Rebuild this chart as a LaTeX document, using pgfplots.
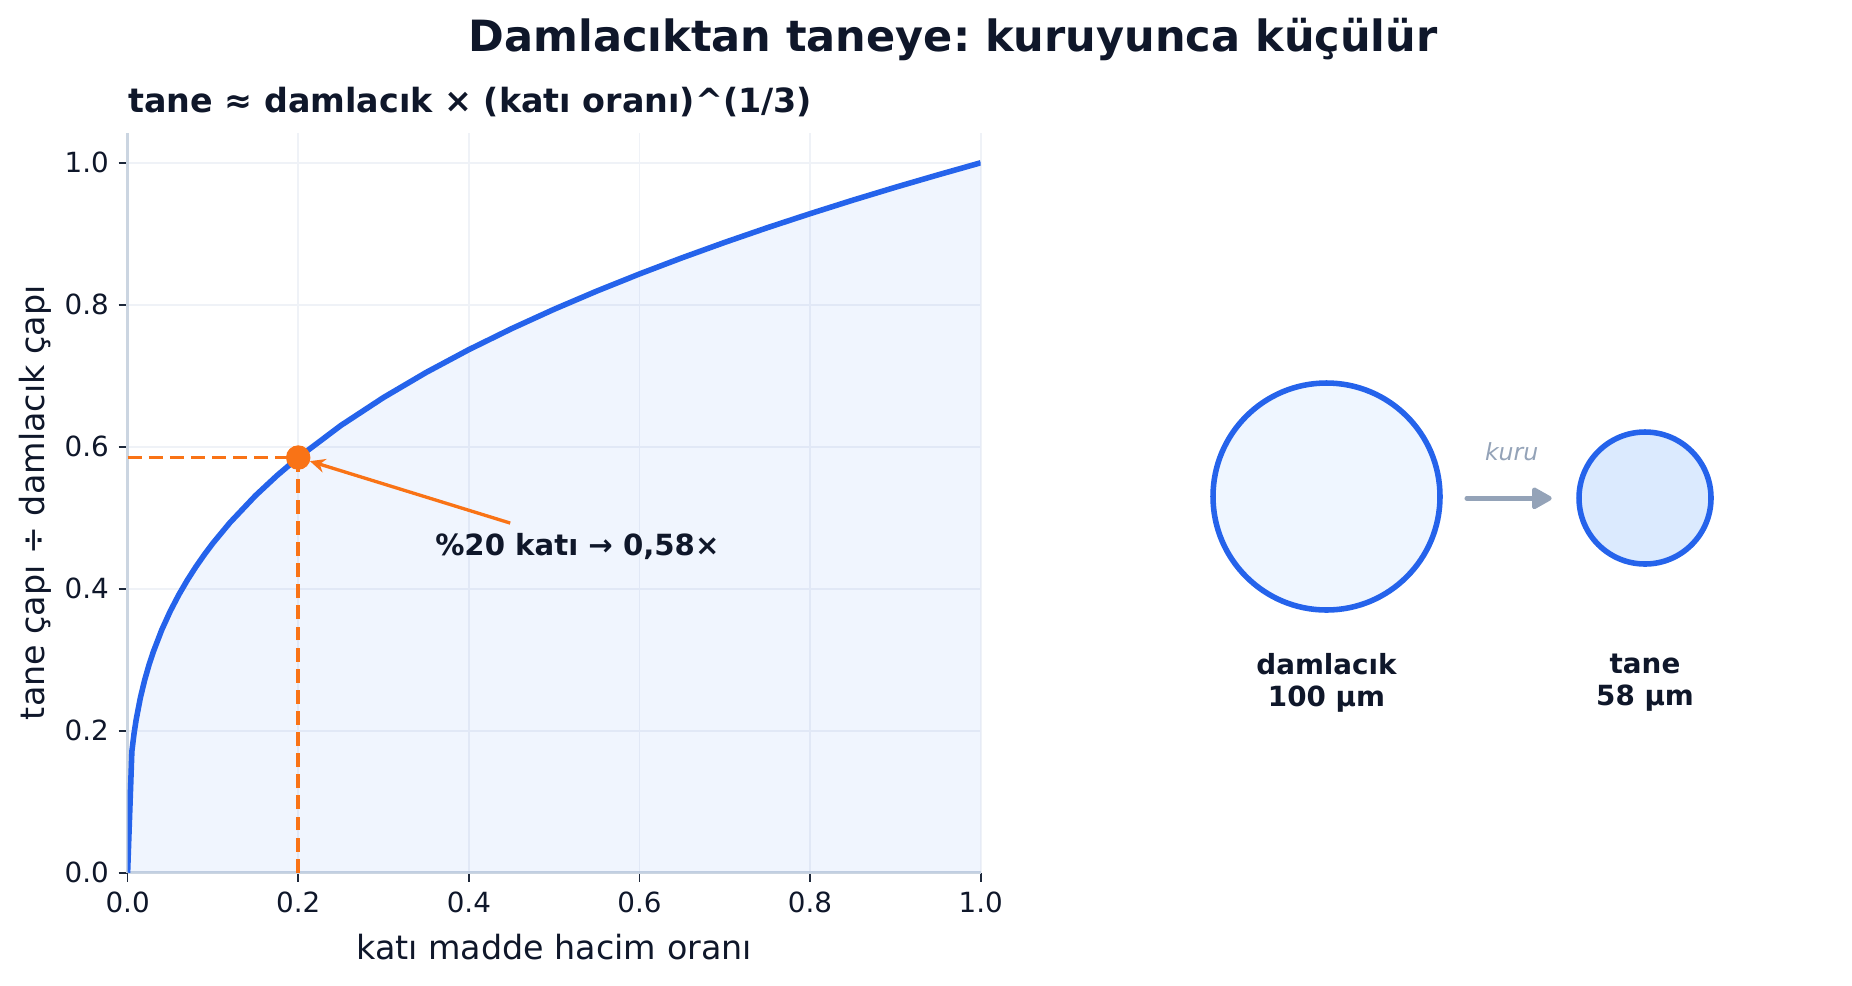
\documentclass[border=0pt]{standalone}
\usepackage{pgfplots}
\pgfplotsset{compat=1.18}
\usepackage{pgfplotstable}
\usepackage{fontspec}
\setmainfont{DejaVu Sans}
\frenchspacing
\usetikzlibrary{arrows.meta}
\definecolor{cblue}{HTML}{2563EB}
\definecolor{cfillA}{HTML}{EFF6FF}
\definecolor{cfillB}{HTML}{DBEAFE}
\definecolor{corange}{HTML}{F97316}
\definecolor{cgray}{HTML}{94A3B8}
\definecolor{ctext}{HTML}{0F172A}
\definecolor{ctick}{HTML}{1E293B}
\definecolor{cgrid}{HTML}{E2E8F0}
\definecolor{cspine}{HTML}{CBD5E1}

\pgfplotstableread{
x y
0 0
0.005 0.1710
0.0075 0.1957
0.01 0.2154
0.015 0.2466
0.02 0.2714
0.025 0.2924
0.03 0.3107
0.04 0.3420
0.05 0.3684
0.06 0.3915
0.07 0.4121
0.08 0.4309
0.09 0.4481
0.1 0.4642
0.12 0.4932
0.15 0.5313
0.175 0.5593
0.2 0.5848
0.25 0.6300
0.3 0.6694
0.35 0.7047
0.4 0.7368
0.45 0.7663
0.5 0.7937
0.55 0.8193
0.6 0.8434
0.65 0.8662
0.7 0.8879
0.75 0.9086
0.8 0.9283
0.85 0.9473
0.9 0.9655
0.95 0.9830
1.0 1.0
}\curvedata

\begin{document}
\begin{tikzpicture}
\useasboundingbox (0,0) rectangle (666.72pt,354.6pt);
% main chart
\begin{axis}[
  at={(45.94pt,40.43pt)}, anchor=south west,
  scale only axis, width=307.1pt, height=266.3pt,
  xmin=0, xmax=1, ymin=0, ymax=1.042,
  axis x line*=bottom, axis y line*=left,
  axis line style={draw=cspine, line width=1pt, -},
  xtick={0,0.2,0.4,0.6,0.8,1.0},
  ytick={0,0.2,0.4,0.6,0.8,1.0},
  tick align=outside, major tick length=3.2pt,
  tick style={draw=ctick, line width=0.6pt},
  /pgf/number format/.cd, fixed, fixed zerofill, precision=1, assume math mode=true,
  /pgfplots/.cd,
  ticklabel style={font=\fontsize{10}{12}\selectfont, text=ctext},
  grid=major, grid style={draw=cgrid!55, line width=0.6pt},
  xlabel={katı madde hacim oranı},
  ylabel={tane çapı ÷ damlacık çapı},
  label style={font=\fontsize{12}{14}\selectfont, text=ctext},
  xlabel style={at={(axis description cs:0.5,-0.1004)}, anchor=center},
  ylabel style={at={(axis description cs:-0.1081,0.5)}, anchor=center},
]
\addplot[draw=none, fill=cblue, fill opacity=0.065] table[x=x,y=y]{\curvedata} \closedcycle;
\addplot[color=cblue, line width=2pt, line join=round] table[x=x,y=y]{\curvedata};
\addplot[color=corange, line width=1.25pt, dash pattern=on 5pt off 2.6pt] coordinates {(0,0.5848) (0.2,0.5848)};
\addplot[color=corange, line width=1.25pt, dash pattern=on 5pt off 2.6pt] coordinates {(0.2,0) (0.2,0.5848)};
\addplot[only marks, mark=*, mark size=4.2pt, color=corange] coordinates {(0.2,0.5848)};
\draw[corange, line width=1.2pt, -{Stealth[length=5.5pt,width=5pt]}, shorten >=4.4pt] (axis cs:0.4485,0.4925) -- (axis cs:0.2,0.5848);
\node[anchor=west, font=\fontsize{10.5}{12}\selectfont\bfseries, text=ctext, inner sep=0pt] at (axis cs:0.36,0.46) {\%20 katı → 0,58×};
\end{axis}
% overlay: titles and schematic
\begin{axis}[
  at={(0pt,0pt)}, anchor=south west,
  scale only axis, width=666.72pt, height=354.6pt,
  xmin=0, xmax=1852, ymin=0, ymax=985, y dir=reverse,
  hide axis, clip=false,
]
\node[font=\fontsize{15.5}{18}\selectfont\bfseries, text=ctext, anchor=center] at (axis cs:953,39) {Damlacıktan taneye: kuruyunca küçülür};
\node[font=\fontsize{12}{14}\selectfont\bfseries, text=ctext, anchor=west, inner sep=0pt] at (axis cs:128,101.6) {tane ≈ damlacık × (katı oranı)\^{}(1/3)};
\addplot[only marks, mark=*, mark size=40.86pt, mark options={draw=cblue, fill=cfillA, line width=2pt}] coordinates {(1326.5,496.5)};
\addplot[only marks, mark=*, mark size=23.76pt, mark options={draw=cblue, fill=cfillB, line width=2pt}] coordinates {(1645,498)};
\draw[cgray, line width=1.6pt, line cap=round, -{Triangle[length=8pt,width=8.5pt,round]}] (axis cs:1466.7,498.3) -- (axis cs:1551.7,498.3);
\node[font=\fontsize{8.5}{10}\selectfont\itshape, text=cgray] at (axis cs:1511.7,452) {kuru};
\node[font=\fontsize{10}{11.5}\selectfont\bfseries, text=ctext, align=center] at (axis cs:1326.5,683) {damlacık\\100 µm};
\node[font=\fontsize{10}{11.5}\selectfont\bfseries, text=ctext, align=center] at (axis cs:1645,683) {tane\\58 µm};
\end{axis}
\end{tikzpicture}
\end{document}
